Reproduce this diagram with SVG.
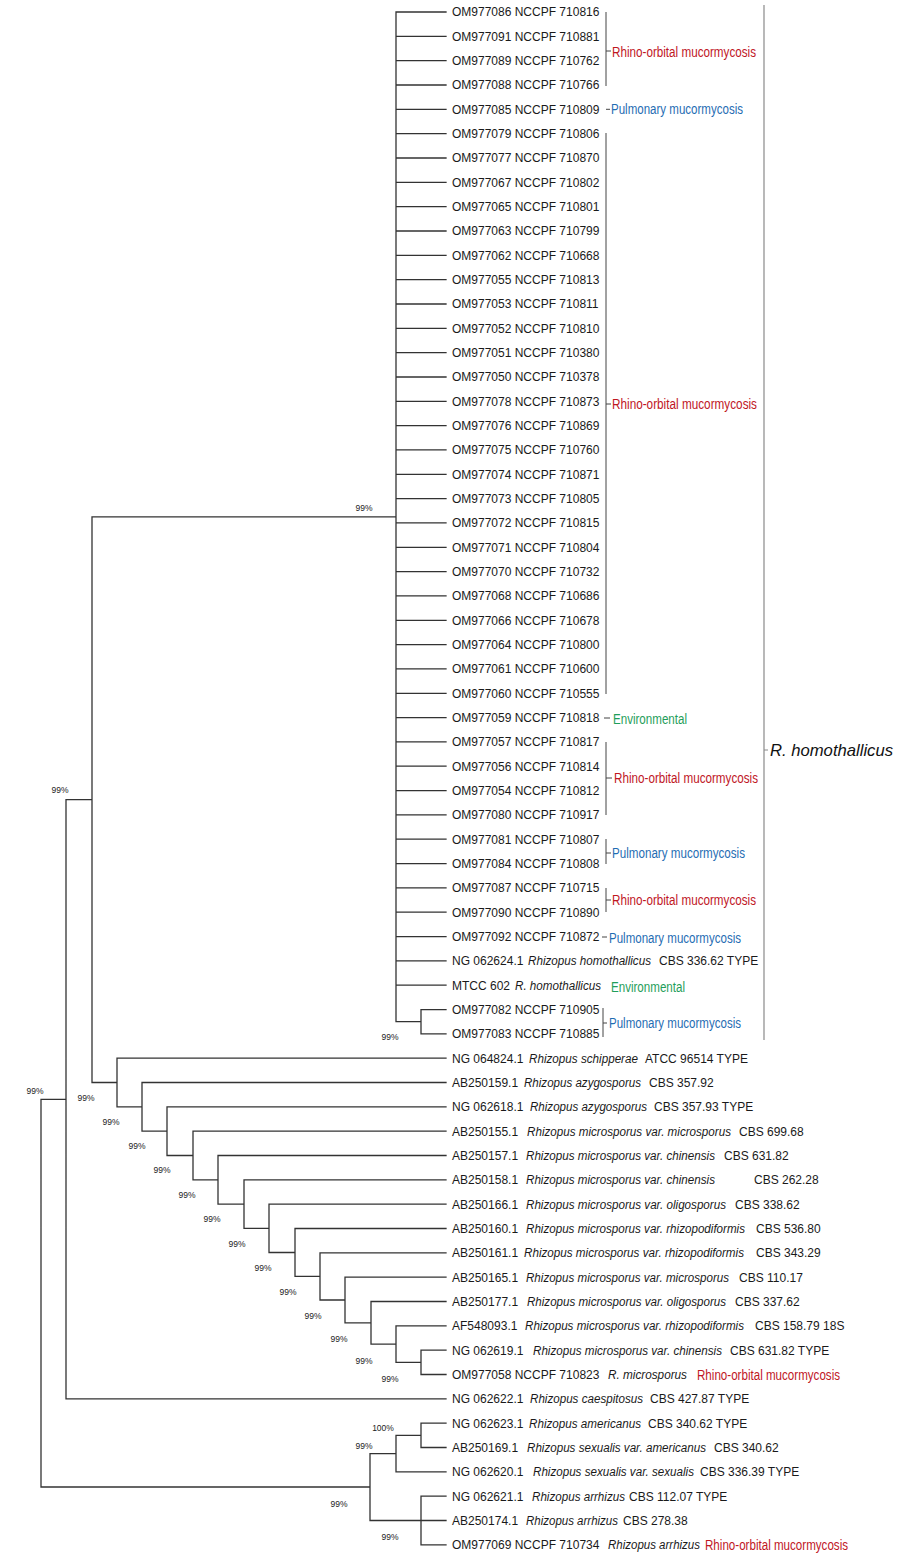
<svg xmlns="http://www.w3.org/2000/svg" width="900" height="1561" viewBox="0 0 900 1561">
<style>
text{font-family:"Liberation Sans",Arial,sans-serif}
.t{font-size:12px;fill:#1a1a1a}
.i{font-size:12px;font-style:italic;fill:#1a1a1a}
.r{font-size:14px;fill:#c0161f}
.b{font-size:14px;fill:#1f6db3}
.g{font-size:14px;fill:#1f9e5a}
.bs{font-size:8.5px;fill:#222;text-anchor:middle}
.br{fill:none;stroke:#444;stroke-width:1}
.tree{fill:none;stroke:#333;stroke-width:1.3;stroke-linecap:square}
</style>
<rect width="900" height="1561" fill="#fff"/>
<g id="connectors">
<path class="tree" d="M396,12V1021.7 M396,12H446 M396,36.3H446 M396,60.7H446 M396,85H446 M396,109.3H446 M396,133.7H446 M396,158H446 M396,182.3H446 M396,206.6H446 M396,231H446 M396,255.3H446 M396,279.6H446 M396,304H446 M396,328.3H446 M396,352.6H446 M396,377H446 M396,401.3H446 M396,425.6H446 M396,449.9H446 M396,474.3H446 M396,498.6H446 M396,522.9H446 M396,547.3H446 M396,571.6H446 M396,595.9H446 M396,620.3H446 M396,644.6H446 M396,668.9H446 M396,693.3H446 M396,717.6H446 M396,741.9H446 M396,766.2H446 M396,790.6H446 M396,814.9H446 M396,839.2H446 M396,863.6H446 M396,887.9H446 M396,912.2H446 M396,936.6H446 M396,960.9H446 M396,985.2H446 M396,1021.7H421 M421,1009.6V1033.9 M421,1009.6H446 M421,1033.9H446
M92,516.9H396 M92,516.9V1082.5 M92,1082.5H117 M117,1058.2V1106.9 M117,1058.2H446 M117,1106.9H142 M142,1082.5V1131.2 M142,1082.5H446 M142,1131.2H167 M167,1106.9V1155.5 M167,1106.9H446 M167,1155.5H193 M193,1131.2V1179.8 M193,1131.2H446 M193,1179.8H218 M218,1155.5V1204.1 M218,1155.5H446 M218,1204.1H244 M244,1179.9V1228.4 M244,1179.9H446 M244,1228.4H269 M269,1204.2V1252.5 M269,1204.2H446 M269,1252.5H295 M295,1228.5V1276.4 M295,1228.5H446 M295,1276.4H320 M320,1252.9V1300 M320,1252.9H446 M320,1300H345 M345,1277.2V1322.8 M345,1277.2H446 M345,1322.8H371 M371,1301.5V1344.1 M371,1301.5H446 M371,1344.1H396 M396,1325.9V1362.4 M396,1325.9H446 M396,1362.4H421 M421,1350.2V1374.5 M421,1350.2H446 M421,1374.5H446
M66,799.7H92 M66,799.7V1398.8 M66,1398.8H446 M41,1099.3H66 M41,1099.3V1487 M41,1487H370 M370,1453.6V1520.5 M370,1453.6H396 M396,1435.3V1471.8 M396,1435.3H421 M421,1423.2V1447.5 M421,1423.2H446 M421,1447.5H446 M396,1471.8H446 M370,1520.5H421 M421,1496.2V1544.8 M421,1496.2H446 M421,1520.5H446 M421,1544.8H446"/>
</g>
<g id="bootstrap">
<text class="bs" x="364" y="511">99%</text>
<text class="bs" x="390" y="1040">99%</text>
<text class="bs" x="60" y="793">99%</text>
<text class="bs" x="35" y="1094">99%</text>
<text class="bs" x="86" y="1101">99%</text>
<text class="bs" x="111" y="1125">99%</text>
<text class="bs" x="137" y="1149">99%</text>
<text class="bs" x="162" y="1173">99%</text>
<text class="bs" x="187" y="1198">99%</text>
<text class="bs" x="212" y="1222">99%</text>
<text class="bs" x="237" y="1247">99%</text>
<text class="bs" x="263" y="1271">99%</text>
<text class="bs" x="288" y="1295">99%</text>
<text class="bs" x="313" y="1319">99%</text>
<text class="bs" x="339" y="1342">99%</text>
<text class="bs" x="364" y="1364">99%</text>
<text class="bs" x="390" y="1382">99%</text>
<text class="bs" x="383" y="1431">100%</text>
<text class="bs" x="364" y="1449">99%</text>
<text class="bs" x="339" y="1507">99%</text>
<text class="bs" x="390" y="1540">99%</text>
</g>
<g id="leaves">
<g id="leaf01"><text class="t" x="452" y="16.3">OM977086 NCCPF 710816</text></g>
<g id="leaf02"><text class="t" x="452" y="40.6">OM977091 NCCPF 710881</text></g>
<g id="leaf03"><text class="t" x="452" y="65">OM977089 NCCPF 710762</text></g>
<g id="leaf04"><text class="t" x="452" y="89.3">OM977088 NCCPF 710766</text></g>
<g id="leaf05"><text class="t" x="452" y="113.6">OM977085 NCCPF 710809</text></g>
<g id="leaf06"><text class="t" x="452" y="138">OM977079 NCCPF 710806</text></g>
<g id="leaf07"><text class="t" x="452" y="162.3">OM977077 NCCPF 710870</text></g>
<g id="leaf08"><text class="t" x="452" y="186.6">OM977067 NCCPF 710802</text></g>
<g id="leaf09"><text class="t" x="452" y="210.9">OM977065 NCCPF 710801</text></g>
<g id="leaf10"><text class="t" x="452" y="235.3">OM977063 NCCPF 710799</text></g>
<g id="leaf11"><text class="t" x="452" y="259.6">OM977062 NCCPF 710668</text></g>
<g id="leaf12"><text class="t" x="452" y="283.9">OM977055 NCCPF 710813</text></g>
<g id="leaf13"><text class="t" x="452" y="308.3">OM977053 NCCPF 710811</text></g>
<g id="leaf14"><text class="t" x="452" y="332.6">OM977052 NCCPF 710810</text></g>
<g id="leaf15"><text class="t" x="452" y="356.9">OM977051 NCCPF 710380</text></g>
<g id="leaf16"><text class="t" x="452" y="381.3">OM977050 NCCPF 710378</text></g>
<g id="leaf17"><text class="t" x="452" y="405.6">OM977078 NCCPF 710873</text></g>
<g id="leaf18"><text class="t" x="452" y="429.9">OM977076 NCCPF 710869</text></g>
<g id="leaf19"><text class="t" x="452" y="454.2">OM977075 NCCPF 710760</text></g>
<g id="leaf20"><text class="t" x="452" y="478.6">OM977074 NCCPF 710871</text></g>
<g id="leaf21"><text class="t" x="452" y="502.9">OM977073 NCCPF 710805</text></g>
<g id="leaf22"><text class="t" x="452" y="527.2">OM977072 NCCPF 710815</text></g>
<g id="leaf23"><text class="t" x="452" y="551.6">OM977071 NCCPF 710804</text></g>
<g id="leaf24"><text class="t" x="452" y="575.9">OM977070 NCCPF 710732</text></g>
<g id="leaf25"><text class="t" x="452" y="600.2">OM977068 NCCPF 710686</text></g>
<g id="leaf26"><text class="t" x="452" y="624.6">OM977066 NCCPF 710678</text></g>
<g id="leaf27"><text class="t" x="452" y="648.9">OM977064 NCCPF 710800</text></g>
<g id="leaf28"><text class="t" x="452" y="673.2">OM977061 NCCPF 710600</text></g>
<g id="leaf29"><text class="t" x="452" y="697.6">OM977060 NCCPF 710555</text></g>
<g id="leaf30"><text class="t" x="452" y="721.9">OM977059 NCCPF 710818</text></g>
<g id="leaf31"><text class="t" x="452" y="746.2">OM977057 NCCPF 710817</text></g>
<g id="leaf32"><text class="t" x="452" y="770.5">OM977056 NCCPF 710814</text></g>
<g id="leaf33"><text class="t" x="452" y="794.9">OM977054 NCCPF 710812</text></g>
<g id="leaf34"><text class="t" x="452" y="819.2">OM977080 NCCPF 710917</text></g>
<g id="leaf35"><text class="t" x="452" y="843.5">OM977081 NCCPF 710807</text></g>
<g id="leaf36"><text class="t" x="452" y="867.9">OM977084 NCCPF 710808</text></g>
<g id="leaf37"><text class="t" x="452" y="892.2">OM977087 NCCPF 710715</text></g>
<g id="leaf38"><text class="t" x="452" y="916.5">OM977090 NCCPF 710890</text></g>
<g id="leaf39"><text class="t" x="452" y="940.9">OM977092 NCCPF 710872</text></g>
<g id="leaf40"><text class="t" x="452" y="965.2">NG 062624.1</text><text class="i" x="528" y="965.4" textLength="123" lengthAdjust="spacingAndGlyphs">Rhizopus homothallicus</text><text class="t" x="659" y="965.2">CBS 336.62 TYPE</text></g>
<g id="leaf41"><text class="t" x="452" y="989.5">MTCC 602</text><text class="i" x="515" y="989.7" textLength="86" lengthAdjust="spacingAndGlyphs">R. homothallicus</text><text class="g" x="611" y="992" textLength="74" lengthAdjust="spacingAndGlyphs">Environmental</text></g>
<g id="leaf42"><text class="t" x="452" y="1013.9">OM977082 NCCPF 710905</text></g>
<g id="leaf43"><text class="t" x="452" y="1038.2">OM977083 NCCPF 710885</text></g>
<g id="leaf44"><text class="t" x="452" y="1062.5">NG 064824.1</text><text class="i" x="529" y="1062.7" textLength="109" lengthAdjust="spacingAndGlyphs">Rhizopus schipperae</text><text class="t" x="645" y="1062.5">ATCC 96514 TYPE</text></g>
<g id="leaf45"><text class="t" x="452" y="1086.8">AB250159.1</text><text class="i" x="524" y="1087" textLength="117" lengthAdjust="spacingAndGlyphs">Rhizopus azygosporus</text><text class="t" x="649" y="1086.8">CBS 357.92</text></g>
<g id="leaf46"><text class="t" x="452" y="1111.2">NG 062618.1</text><text class="i" x="530" y="1111.4" textLength="117" lengthAdjust="spacingAndGlyphs">Rhizopus azygosporus</text><text class="t" x="654" y="1111.2">CBS 357.93 TYPE</text></g>
<g id="leaf47"><text class="t" x="452" y="1135.5">AB250155.1</text><text class="i" x="527" y="1135.7" textLength="204" lengthAdjust="spacingAndGlyphs">Rhizopus microsporus var. microsporus</text><text class="t" x="739" y="1135.5">CBS 699.68</text></g>
<g id="leaf48"><text class="t" x="452" y="1159.8">AB250157.1</text><text class="i" x="526" y="1160" textLength="189" lengthAdjust="spacingAndGlyphs">Rhizopus microsporus var. chinensis</text><text class="t" x="724" y="1159.8">CBS 631.82</text></g>
<g id="leaf49"><text class="t" x="452" y="1184.2">AB250158.1</text><text class="i" x="526" y="1184.4" textLength="189" lengthAdjust="spacingAndGlyphs">Rhizopus microsporus var. chinensis</text><text class="t" x="754" y="1184.2">CBS 262.28</text></g>
<g id="leaf50"><text class="t" x="452" y="1208.5">AB250166.1</text><text class="i" x="526" y="1208.7" textLength="200" lengthAdjust="spacingAndGlyphs">Rhizopus microsporus var. oligosporus</text><text class="t" x="735" y="1208.5">CBS 338.62</text></g>
<g id="leaf51"><text class="t" x="452" y="1232.8">AB250160.1</text><text class="i" x="526" y="1233" textLength="219" lengthAdjust="spacingAndGlyphs">Rhizopus microsporus var. rhizopodiformis</text><text class="t" x="756" y="1232.8">CBS 536.80</text></g>
<g id="leaf52"><text class="t" x="452" y="1257.2">AB250161.1</text><text class="i" x="524" y="1257.4" textLength="220" lengthAdjust="spacingAndGlyphs">Rhizopus microsporus var. rhizopodiformis</text><text class="t" x="756" y="1257.2">CBS 343.29</text></g>
<g id="leaf53"><text class="t" x="452" y="1281.5">AB250165.1</text><text class="i" x="526" y="1281.7" textLength="203" lengthAdjust="spacingAndGlyphs">Rhizopus microsporus var. microsporus</text><text class="t" x="739" y="1281.5">CBS 110.17</text></g>
<g id="leaf54"><text class="t" x="452" y="1305.8">AB250177.1</text><text class="i" x="527" y="1306" textLength="199" lengthAdjust="spacingAndGlyphs">Rhizopus microsporus var. oligosporus</text><text class="t" x="735" y="1305.8">CBS 337.62</text></g>
<g id="leaf55"><text class="t" x="452" y="1330.2">AF548093.1</text><text class="i" x="525" y="1330.4" textLength="219" lengthAdjust="spacingAndGlyphs">Rhizopus microsporus var. rhizopodiformis</text><text class="t" x="755" y="1330.2">CBS 158.79 18S</text></g>
<g id="leaf56"><text class="t" x="452" y="1354.5">NG 062619.1</text><text class="i" x="533" y="1354.7" textLength="189" lengthAdjust="spacingAndGlyphs">Rhizopus microsporus var. chinensis</text><text class="t" x="730" y="1354.5">CBS 631.82 TYPE</text></g>
<g id="leaf57"><text class="t" x="452" y="1378.8">OM977058 NCCPF 710823</text><text class="i" x="608" y="1379" textLength="79" lengthAdjust="spacingAndGlyphs">R. microsporus</text><text class="r" x="697" y="1379.5" textLength="143" lengthAdjust="spacingAndGlyphs">Rhino-orbital mucormycosis</text></g>
<g id="leaf58"><text class="t" x="452" y="1403.1">NG 062622.1</text><text class="i" x="530" y="1403.3" textLength="113" lengthAdjust="spacingAndGlyphs">Rhizopus caespitosus</text><text class="t" x="650" y="1403.1">CBS 427.87 TYPE</text></g>
<g id="leaf59"><text class="t" x="452" y="1427.5">NG 062623.1</text><text class="i" x="529" y="1427.7" textLength="112" lengthAdjust="spacingAndGlyphs">Rhizopus americanus</text><text class="t" x="648" y="1427.5">CBS 340.62 TYPE</text></g>
<g id="leaf60"><text class="t" x="452" y="1451.8">AB250169.1</text><text class="i" x="527" y="1452" textLength="179" lengthAdjust="spacingAndGlyphs">Rhizopus sexualis var. americanus</text><text class="t" x="714" y="1451.8">CBS 340.62</text></g>
<g id="leaf61"><text class="t" x="452" y="1476.1">NG 062620.1</text><text class="i" x="533" y="1476.3" textLength="161" lengthAdjust="spacingAndGlyphs">Rhizopus sexualis var. sexualis</text><text class="t" x="700" y="1476.1">CBS 336.39 TYPE</text></g>
<g id="leaf62"><text class="t" x="452" y="1500.5">NG 062621.1</text><text class="i" x="532" y="1500.7" textLength="93" lengthAdjust="spacingAndGlyphs">Rhizopus arrhizus</text><text class="t" x="629" y="1500.5">CBS 112.07 TYPE</text></g>
<g id="leaf63"><text class="t" x="452" y="1524.8">AB250174.1</text><text class="i" x="526" y="1525" textLength="92" lengthAdjust="spacingAndGlyphs">Rhizopus arrhizus</text><text class="t" x="623" y="1524.8">CBS 278.38</text></g>
<g id="leaf64"><text class="t" x="452" y="1549.1">OM977069 NCCPF 710734</text><text class="i" x="608" y="1549.3" textLength="92" lengthAdjust="spacingAndGlyphs">Rhizopus arrhizus</text><text class="r" x="705" y="1549.8" textLength="143" lengthAdjust="spacingAndGlyphs">Rhino-orbital mucormycosis</text></g>
</g>
<g id="annotations">
<path class="br" d="M606,12V86 M606,51H611 M606,109.3H610 M606,133V694 M606,404H611 M604,718H610 M606,742V815 M606,778H612 M606,839V864 M606,853H611 M606,888V912 M606,900H611 M602,937H607 M603,1008V1037 M603,1023H607"/>
<text class="r" x="612" y="56.5" textLength="144" lengthAdjust="spacingAndGlyphs">Rhino-orbital mucormycosis</text>
<text class="b" x="611" y="114" textLength="132" lengthAdjust="spacingAndGlyphs">Pulmonary mucormycosis</text>
<text class="r" x="612" y="409" textLength="145" lengthAdjust="spacingAndGlyphs">Rhino-orbital mucormycosis</text>
<text class="g" x="613" y="724" textLength="74" lengthAdjust="spacingAndGlyphs">Environmental</text>
<text class="r" x="614" y="783" textLength="144" lengthAdjust="spacingAndGlyphs">Rhino-orbital mucormycosis</text>
<text class="b" x="612" y="858" textLength="133" lengthAdjust="spacingAndGlyphs">Pulmonary mucormycosis</text>
<text class="r" x="612" y="905" textLength="144" lengthAdjust="spacingAndGlyphs">Rhino-orbital mucormycosis</text>
<text class="b" x="609" y="943" textLength="132" lengthAdjust="spacingAndGlyphs">Pulmonary mucormycosis</text>
<text class="b" x="609" y="1028" textLength="132" lengthAdjust="spacingAndGlyphs">Pulmonary mucormycosis</text>
<path d="M764,5V1040 M764,750H768" fill="none" stroke="#8a8a8a" stroke-width="1.2"/>
<text x="770" y="756" font-size="16.5" font-style="italic" fill="#111" textLength="123" lengthAdjust="spacingAndGlyphs">R. homothallicus</text>
</g>
</svg>
